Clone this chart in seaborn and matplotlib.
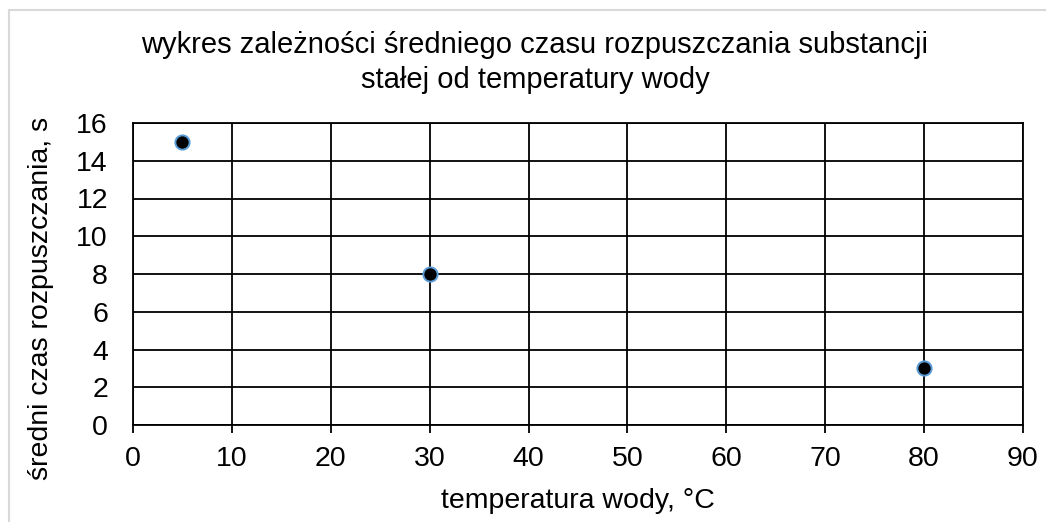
import matplotlib
matplotlib.use("Agg")
import matplotlib.pyplot as plt
import seaborn as sns
import pandas as pd
from matplotlib.patches import Rectangle

# Measurements: water temperature vs mean dissolution time
temperatura = [5, 30, 80]
czas = [15, 8, 3]

x_ticks = list(range(0, 100, 10))
y_ticks = list(range(0, 18, 2))

sns.set_theme(style="white")
plt.rcParams["font.family"] = ["Liberation Sans", "DejaVu Sans"]

df = pd.DataFrame({"temperatura": temperatura, "czas": czas})

fig = plt.figure(figsize=(10.46, 5.22), dpi=100)
ax = fig.add_axes([133 / 1046, 1 - 425 / 522, (1023 - 133) / 1046, (425 - 123) / 522])

sns.scatterplot(data=df, x="temperatura", y="czas", ax=ax, s=105,
                color="black", edgecolor="#5B9BD5", linewidth=1.4, zorder=5, clip_on=False)

ax.set_xlim(0, 90)
ax.set_ylim(0, 16)
ax.set_xticks(x_ticks)
ax.set_yticks(y_ticks)
ax.grid(True, color="black", linewidth=1.3)
for sp in ax.spines.values():
    sp.set_color("black")
    sp.set_linewidth(1.3)
ax.tick_params(axis="x", direction="out", length=6, width=1.3, color="black",
               labelsize=20.5, labelcolor="black", pad=9, bottom=True)
ax.tick_params(axis="y", length=0, labelsize=20.5, labelcolor="black", pad=18, left=True)

ax.set_xlabel("temperatura wody, °C", fontsize=20.5, color="black", labelpad=12)
ax.set_ylabel("średni czas rozpuszczania, s", fontsize=20.5, color="black")
ax.yaxis.set_label_coords(-0.089, 0.42)
fig.suptitle("wykres zależności średniego czasu rozpuszczania substancji\nstałej od temperatury wody",
             fontsize=21, color="black", x=535 / 1046, y=1 - 31 / 522, va="top", linespacing=1.32)

# thin grey frame around the chart area
fig.patches.append(Rectangle((9 / 1046, -0.05), 1.1, 1 - 10 / 522 + 0.05,
                             transform=fig.transFigure, fill=False,
                             edgecolor="#D9D9D9", linewidth=1.5))

fig.savefig("out.png", dpi=100)
